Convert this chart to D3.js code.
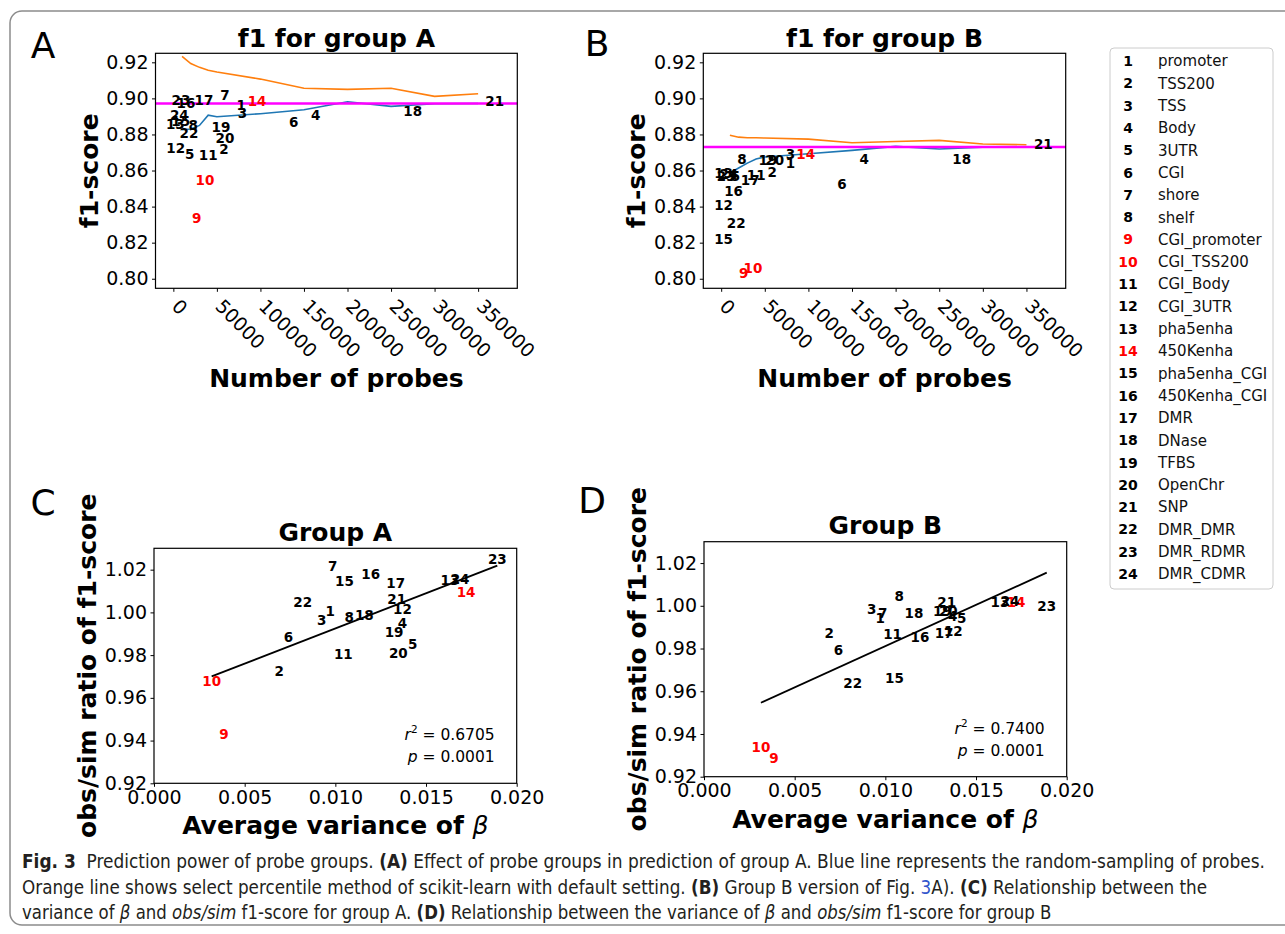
<!DOCTYPE html>
<html>
<head>
<meta charset="utf-8">
<script src="https://cdn.jsdelivr.net/npm/d3@7"></script>
<style>
  body { margin: 0; background: #fff; }
  svg text { font-family: "DejaVu Sans", sans-serif; }
</style>
</head>
<body>
<svg id="fig" width="1285" height="934"></svg>
<script>
// probe groups, numbered 1..24 in every panel
const groupNames = ["promoter", "TSS200", "TSS", "Body", "3UTR", "CGI", "shore", "shelf",
  "CGI_promoter", "CGI_TSS200", "CGI_Body", "CGI_3UTR", "pha5enha", "450Kenha",
  "pha5enha_CGI", "450Kenha_CGI", "DMR", "DNase", "TFBS", "OpenChr", "SNP",
  "DMR_DMR", "DMR_RDMR", "DMR_CDMR"];
const redGroups = [9, 10, 14];

// A: number of probes and f1-score per group
const probesA = [78000, 58000, 79400, 163400, 18700, 138200, 59200, 22900, 26700, 36300, 40100, 2700,
  2300, 96200, 8400, 14500, 35100, 274800, 54600, 59200, 369100, 17900, 8800, 6900];
const f1A = [0.8965, 0.8720, 0.8919, 0.8909, 0.8691, 0.8867, 0.9020, 0.8850, 0.8335, 0.8544, 0.8687, 0.8724,
  0.8859, 0.8985, 0.8876, 0.8974, 0.8993, 0.8932, 0.8839, 0.8778, 0.8983, 0.8807, 0.8993, 0.8907];

// B
const probesB = [79300, 58600, 79300, 163900, 16500, 138600, 12600, 23700, 25700, 36400, 40200, 2700,
  2700, 96900, 2700, 14200, 33300, 275700, 53600, 61300, 369400, 17200, 5700, 8800];
const f1B = [0.8641, 0.8592, 0.8693, 0.8665, 0.8571, 0.8527, 0.8568, 0.8665, 0.8030, 0.8061, 0.8573, 0.8407,
  0.8586, 0.8693, 0.8218, 0.8487, 0.8549, 0.8662, 0.8660, 0.8660, 0.8748, 0.8310, 0.8568, 0.8582];

// random sampling (blue) and select percentile (orange)
const sampleSizes = [10000, 20000, 30000, 40000, 50000, 100000, 150000, 200000, 250000, 300000, 350000];
const randomA = [0.8826, 0.8830, 0.8850, 0.8907, 0.8898, 0.8915, 0.8937, 0.8981, 0.8956, 0.8970, 0.8972];
const percentileA = [0.9233, 0.9193, 0.9172, 0.9156, 0.9146, 0.9107, 0.9056, 0.9050, 0.9056, 0.9011, 0.9026];
const randomB = [0.8586, 0.8614, 0.8641, 0.8664, 0.8675, 0.8693, 0.8712, 0.8734, 0.8719, 0.8730, 0.8730];
const percentileB = [0.8796, 0.8785, 0.8782, 0.8782, 0.8780, 0.8774, 0.8754, 0.8761, 0.8767, 0.8747, 0.8743];
const allProbesA = 0.8972;
const allProbesB = 0.8730;

// C / D: average variance of beta and obs/sim ratio
const varBetaA = [0.00971, 0.00691, 0.00925, 0.01370, 0.01427, 0.00741, 0.00985, 0.01077, 0.00386, 0.00318,
  0.01044, 0.01370, 0.01632, 0.01721, 0.01050, 0.01195, 0.01333, 0.01160, 0.01324, 0.01347, 0.01338,
  0.00820, 0.01893, 0.01688];
const ratioA = [1.0004, 0.9723, 0.9965, 0.9949, 0.9852, 0.9882, 1.0217, 0.9976, 0.9429, 0.9679, 0.9805, 1.0015,
  1.0152, 1.0094, 1.0147, 1.0180, 1.0139, 0.9985, 0.9907, 0.9809, 1.0061, 1.0050, 1.0250, 1.0157];
const varBetaB = [0.00971, 0.00691, 0.00925, 0.01371, 0.01421, 0.00741, 0.00985, 0.01077, 0.00386, 0.00314,
  0.01040, 0.01375, 0.01632, 0.01721, 0.01050, 0.01191, 0.01324, 0.01158, 0.01314, 0.01347, 0.01338,
  0.00820, 0.01890, 0.01688];
const ratioB = [0.9941, 0.9871, 0.9983, 0.9952, 0.9941, 0.9793, 0.9965, 1.0043, 0.9286, 0.9337, 0.9868, 0.9883,
  1.0019, 1.0019, 0.9660, 0.9852, 0.9871, 0.9965, 0.9977, 0.9977, 1.0019, 0.9640, 0.9999, 1.0022];
const fitA = [0.9596, 3.29];   // intercept, slope
const fitB = [0.9425, 3.863];
const statsA = ["0.6705", "0.0001"];
const statsB = ["0.7400", "0.0001"];

const probeTicks = [0, 50000, 100000, 150000, 200000, 250000, 300000, 350000];
const f1Ticks = [0.80, 0.82, 0.84, 0.86, 0.88, 0.90, 0.92];
const varTicks = [0, 0.005, 0.010, 0.015, 0.020];
const ratioTicks = [0.92, 0.94, 0.96, 0.98, 1.00, 1.02];

const svg = d3.select("#fig");
svg.append("rect").attr("width", 1285).attr("height", 934).attr("fill", "#fff");
// outer frame of the figure
svg.append("rect").attr("x", 10).attr("y", 11).attr("width", 1300).attr("height", 914).attr("rx", 12)
  .attr("fill", "none").attr("stroke", "#8c8c8c").attr("stroke-width", 1.5);

function labelColor(i){ return redGroups.includes(i + 1) ? "#ff0000" : "#000"; }

function styleAxis(a){
  a.select(".domain").remove();
  a.selectAll("line").attr("stroke", "#000").attr("stroke-width", 1);
  a.selectAll("text").attr("font-size", 19).attr("fill", "#000").attr("font-family", "DejaVu Sans");
}

function groupLabels(g, xs, ys, x, y){
  g.selectAll("text.grp").data(ys).join("text").attr("class", "grp")
    .attr("x", (d, i) => x(xs[i])).attr("y", d => y(d)).attr("dy", "0.36em")
    .attr("text-anchor", "middle").attr("font-weight", "bold").attr("font-size", 13.5)
    .attr("fill", (d, i) => labelColor(i))
    .text((d, i) => i + 1);
}

function frame(g, w, h, title, titleDy, xLabel, xLabelY, yLabel){
  g.append("rect").attr("width", w).attr("height", h).attr("fill", "none").attr("stroke", "#000").attr("stroke-width", 1.2);
  g.append("text").attr("x", w / 2).attr("y", titleDy).attr("text-anchor", "middle")
    .attr("font-weight", "bold").attr("font-size", 25).text(title);
  const xl = g.append("text").attr("x", w / 2).attr("y", xLabelY).attr("text-anchor", "middle")
    .attr("font-weight", "bold").attr("font-size", 25);
  xLabel.forEach(p => xl.append("tspan").attr("font-style", p[1] ? "italic" : null)
    .attr("font-weight", p[1] ? "normal" : null).text(p[0]));
  g.append("text").attr("transform", `translate(-58,${h / 2}) rotate(-90)`).attr("text-anchor", "middle")
    .attr("font-weight", "bold").attr("font-size", 25).text(yLabel);
}

function probePanel(box, title, probes, f1, random, percentile, allProbes){
  const w = box.right - box.left, h = box.bottom - box.top;
  const g = svg.append("g").attr("transform", `translate(${box.left},${box.top})`);
  const x = d3.scaleLinear().domain([-20500, 395000]).range([0, w]);
  const y = d3.scaleLinear().domain([0.7947, 0.925]).range([h, 0]);

  g.append("g").call(d3.axisLeft(y).tickValues(f1Ticks).tickFormat(d3.format(".2f")).tickSize(3.5).tickPadding(3.5))
    .call(styleAxis);
  const xa = g.append("g").attr("transform", `translate(0,${h})`)
    .call(d3.axisBottom(x).tickValues(probeTicks).tickFormat(d3.format("d")).tickSize(3.5))
    .call(styleAxis);
  xa.selectAll("text").attr("y", 0).attr("dy", "0.76em").attr("text-anchor", "start")
    .attr("transform", "translate(7,9) rotate(45)");

  const line = d3.line().x((d, i) => x(sampleSizes[i])).y(d => y(d));
  g.append("path").datum(percentile).attr("d", line).attr("fill", "none").attr("stroke", "#ff7f0e").attr("stroke-width", 1.6);
  g.append("path").datum(random).attr("d", line).attr("fill", "none").attr("stroke", "#1f77b4").attr("stroke-width", 1.6);
  g.append("line").attr("x1", 0).attr("x2", w).attr("y1", y(allProbes)).attr("y2", y(allProbes))
    .attr("stroke", "#ff00ff").attr("stroke-width", 2.5);

  groupLabels(g, probes, f1, x, y);
  frame(g, w, h, title, -6, [["Number of probes"]], h + 99, "f1-score");
}

function variancePanel(box, title, varBeta, ratio, fit, stats){
  const w = box.right - box.left, h = box.bottom - box.top;
  const g = svg.append("g").attr("transform", `translate(${box.left},${box.top})`);
  const x = d3.scaleLinear().domain([0, 0.020]).range([0, w]);
  const y = d3.scaleLinear().domain([0.92, 1.03]).range([h, 0]);

  g.append("g").call(d3.axisLeft(y).tickValues(ratioTicks).tickFormat(d3.format(".2f")).tickSize(3.5).tickPadding(3.5))
    .call(styleAxis);
  g.append("g").attr("transform", `translate(0,${h})`)
    .call(d3.axisBottom(x).tickValues(varTicks).tickFormat(d3.format(".3f")).tickSize(3.5).tickPadding(3.5))
    .call(styleAxis);

  const ext = d3.extent(varBeta);
  g.append("line").attr("x1", x(ext[0])).attr("x2", x(ext[1]))
    .attr("y1", y(fit[0] + fit[1] * ext[0])).attr("y2", y(fit[0] + fit[1] * ext[1]))
    .attr("stroke", "#000").attr("stroke-width", 1.8);

  groupLabels(g, varBeta, ratio, x, y);

  const r = g.append("text").attr("x", w - 22).attr("y", h - 43).attr("text-anchor", "end").attr("font-size", 15.5);
  r.append("tspan").attr("font-style", "italic").text("r");
  r.append("tspan").attr("font-size", 10.5).attr("dy", -7).text("2");
  r.append("tspan").attr("dy", 7).text(" = " + stats[0]);
  const p = g.append("text").attr("x", w - 22).attr("y", h - 21).attr("text-anchor", "end").attr("font-size", 15.5);
  p.append("tspan").attr("font-style", "italic").text("p");
  p.append("tspan").text(" = " + stats[1]);

  frame(g, w, h, title, -7.5, [["Average variance of "], ["β", true]], h + 51, "obs/sim ratio of f1-score");
}

probePanel({left: 155.5, right: 517.3, top: 53.3, bottom: 288.3}, "f1 for group A", probesA, f1A, randomA, percentileA, allProbesA);
probePanel({left: 703.3, right: 1065.7, top: 53.3, bottom: 288.3}, "f1 for group B", probesB, f1B, randomB, percentileB, allProbesB);
variancePanel({left: 154, right: 516.7, top: 548.3, bottom: 783.3}, "Group A", varBetaA, ratioA, fitA, statsA);
variancePanel({left: 704, right: 1066.7, top: 541.7, bottom: 776.7}, "Group B", varBetaB, ratioB, fitB, statsB);

// panel letters
[["A", 43, 58], ["B", 597, 56], ["C", 43, 515], ["D", 592, 513]].forEach(l => {
  svg.append("text").attr("x", l[1]).attr("y", l[2]).attr("text-anchor", "middle")
    .attr("font-family", "Liberation Sans, Arial, sans-serif").attr("font-size", 36).text(l[0]);
});

// legend
const lg = svg.append("g").attr("transform", "translate(1110,48)");
lg.append("rect").attr("width", 163).attr("height", 541).attr("rx", 4)
  .attr("fill", "#fff").attr("stroke", "#cccccc").attr("stroke-width", 1);
const rowY = d3.scaleLinear().domain([1, 24]).range([13, 526]);
const rows = lg.selectAll("g.row").data(groupNames).join("g").attr("class", "row")
  .attr("transform", (d, i) => `translate(0,${rowY(i + 1)})`);
rows.append("text").attr("x", 18).attr("dy", "0.36em").attr("text-anchor", "middle")
  .attr("font-weight", "bold").attr("font-size", 14).attr("fill", (d, i) => labelColor(i)).text((d, i) => i + 1);
rows.append("text").attr("x", 48).attr("dy", "0.36em").attr("font-size", 15).attr("fill", "#111").text(d => d);

// caption
const captionLines = [
  {y: 868, end: 1266, parts: [["Fig. 3", "b"], ["  Prediction power of probe groups. "], ["(A)", "b"],
    [" Effect of probe groups in prediction of group A. Blue line represents the random-sampling of probes."]]},
  {y: 894, end: 1208, parts: [["Orange line shows select percentile method of scikit-learn with default setting. "], ["(B)", "b"],
    [" Group B version of Fig. "], ["3", "link"], ["A). "], ["(C)", "b"], [" Relationship between the"]]},
  {y: 919, end: 1052, parts: [["variance of "], ["β", "i"], [" and "], ["obs/sim", "i"], [" f1-score for group A. "], ["(D)", "b"],
    [" Relationship between the variance of "], ["β", "i"], [" and "], ["obs/sim", "i"], [" f1-score for group B"]]}
];
captionLines.forEach(c => {
  const t = svg.append("text").attr("x", 0).attr("y", 0)
    .attr("font-family", "Liberation Sans Narrow, DejaVu Sans Condensed, Liberation Sans, sans-serif")
    .attr("font-stretch", "condensed").attr("font-size", 20).attr("fill", "#231f20")
    .attr("xml:space", "preserve").style("white-space", "pre");
  c.parts.forEach(p => {
    const s = t.append("tspan").text(p[0]);
    if (p[1] === "b") s.attr("font-weight", "bold");
    if (p[1] === "i") s.attr("font-style", "italic");
    if (p[1] === "link") s.attr("fill", "#3355cc");
  });
  const len = t.node().getComputedTextLength();
  t.attr("transform", `translate(22,${c.y}) scale(${(c.end - 22) / len},1)`);
});
</script>
</body>
</html>
